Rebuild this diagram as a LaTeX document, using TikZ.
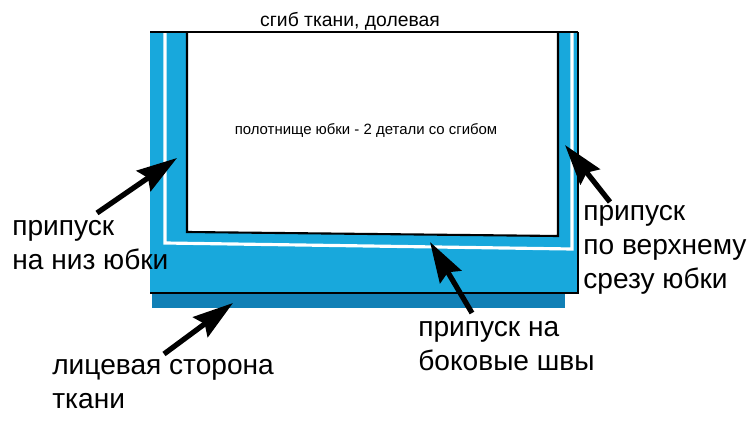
\documentclass[tikz,border=0pt]{standalone}
\usepackage{fontspec}
\setmainfont{Liberation Sans}
\usetikzlibrary{arrows.meta}
\definecolor{fabric}{RGB}{24,168,220}
\definecolor{fabricdark}{RGB}{17,128,182}

\begin{document}
\begin{tikzpicture}[x=0.02cm, y=-0.02cm,
    notetext/.style={anchor=west, align=left, inner sep=0pt, font=\fontsize{16}{19.5}\selectfont},
    pointer/.style={line width=3pt, -{Stealth[length=23pt,width=14pt,inset=3pt]}}]
  \fill[white] (0,0) rectangle (750,422);
  \useasboundingbox (0,0) rectangle (750,422);

  % fabric, folded
  \fill[fabricdark] (152,290) rectangle (565,308);
  \fill[fabric] (150,32) rectangle (578,293);
  \draw[line width=0.9pt] (150,293) -- (578,293) -- (578,32);
  \draw[white, line width=1.8pt] (165,32) -- (165,243) -- (572,249) -- (572,32);
  % pattern piece
  \filldraw[fill=white, line width=1.2pt] (187,32) -- (187,232) -- (558,236) -- (558,32);
  \draw[line width=1.2pt] (150,32) -- (578,32);

  \node[font=\fontsize{11}{13}\selectfont] (fold) at (350,21) {сгиб ткани, долевая};
  \node[font=\fontsize{8.5}{10}\selectfont] (panel) at (366,131) {полотнище юбки - 2 детали со сгибом};

  \node[notetext] (hem)   at (12,245)  {припуск\\на низ юбки};
  \node[notetext] (face)  at (52,384)  {лицевая сторона\\ткани};
  \node[notetext] (side)  at (418,346) {припуск на\\боковые швы};
  \node[notetext] (waist) at (583,250) {припуск\\по верхнему\\срезу юбки};

  \coordinate (hemtail)   at (97,213);
  \coordinate (hemtip)    at (177,158);
  \coordinate (facetail)  at (164,354);
  \coordinate (facetip)   at (233,303);
  \coordinate (sidetail)  at (472,313);
  \coordinate (sidetip)   at (430,242);
  \coordinate (waisttail) at (610,202);
  \coordinate (waisttip)  at (565,145);

  \draw[pointer] (hemtail) -- (hemtip);
  \draw[pointer] (facetail) -- (facetip);
  \draw[pointer] (sidetail) -- (sidetip);
  \draw[pointer] (waisttail) -- (waisttip);
\end{tikzpicture}
\end{document}
